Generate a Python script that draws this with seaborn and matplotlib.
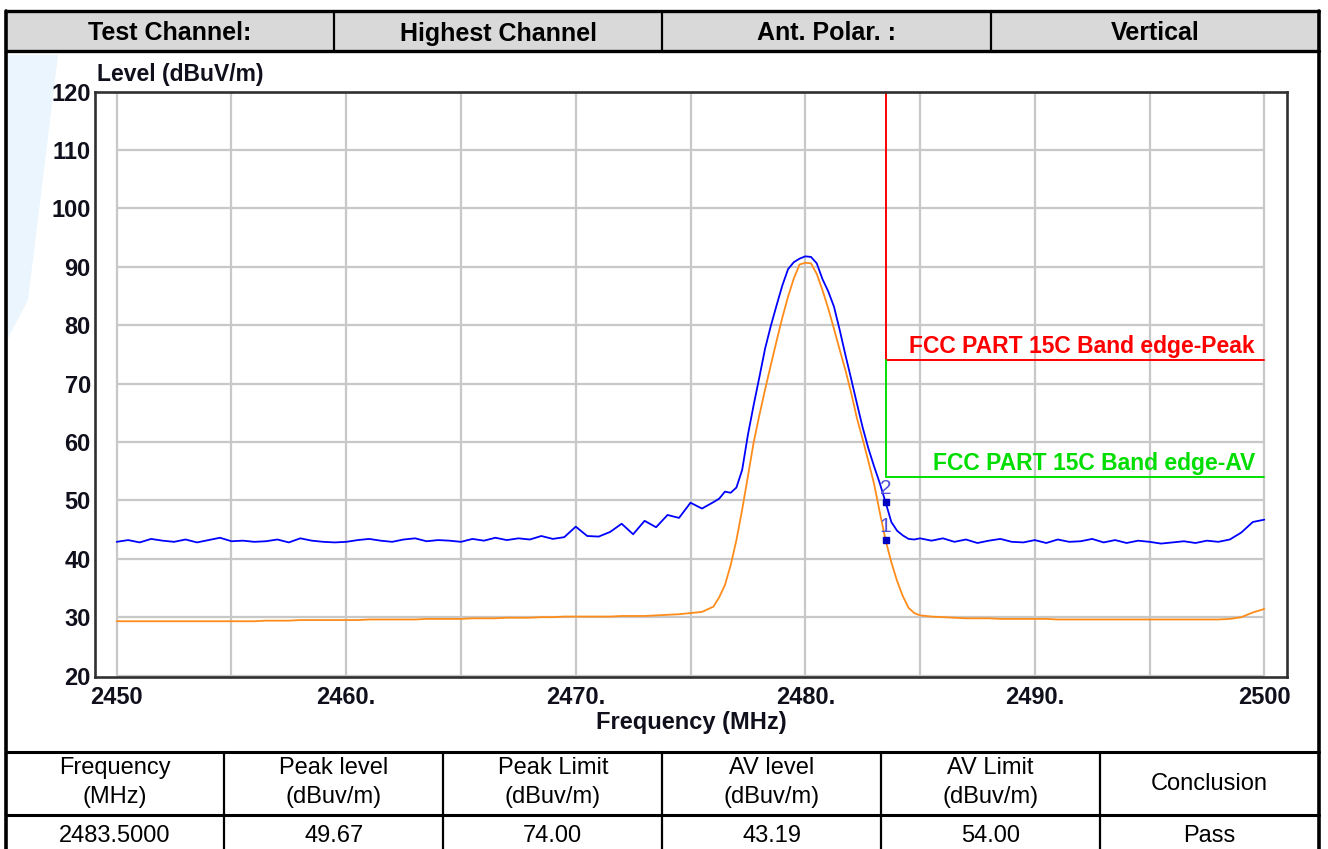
import numpy as np
import pandas as pd
import matplotlib
matplotlib.use('Agg')
import matplotlib.pyplot as plt
from matplotlib.lines import Line2D
from matplotlib.patches import Rectangle, Polygon
import seaborn as sns

W, H = 1328, 849

# sweep grid (MHz): coarse outside the carrier, finer across it
freq = np.concatenate([np.arange(2450, 2476, 0.5),
                       np.arange(2476, 2485.01, 0.25),
                       np.arange(2485.5, 2500.01, 0.5)])

# peak detector trace (blue)
peak_level = [
    42.9, 43.2, 42.8, 43.4, 43.1, 42.9, 43.3, 42.8, 43.2, 43.6,
    43.0, 43.1, 42.9, 43.0, 43.3, 42.8, 43.5, 43.1, 42.9, 42.8,
    42.9, 43.2, 43.4, 43.1, 42.9, 43.3, 43.5, 43.0, 43.2, 43.1,
    42.9, 43.4, 43.1, 43.6, 43.2, 43.5, 43.3, 43.9, 43.4, 43.7,
    45.5, 43.9, 43.8, 44.6, 46.0, 44.2, 46.5, 45.4, 47.5, 47.0,
    49.6, 48.6,
    49.7, 50.3, 51.5, 51.3, 52.2, 55.2, 61.2, 66.3, 71.1, 76.0,
    79.9, 83.4, 86.8, 89.6, 90.8, 91.4, 91.8, 91.7, 90.6, 87.9,
    85.8, 83.2, 79.2, 74.9, 70.8, 66.6, 62.5, 58.9, 55.8, 52.9,
    49.67, 46.3, 44.8, 44.0, 43.4, 43.3, 43.5,
    43.1, 43.5, 42.9, 43.3, 42.7, 43.1, 43.4, 42.9, 42.8, 43.2,
    42.7, 43.3, 42.9, 43.0, 43.4, 42.8, 43.2, 42.7, 43.1, 42.9,
    42.6, 42.8, 43.0, 42.7, 43.1, 42.9, 43.3, 44.5, 46.3, 46.7,
]

# average detector trace (orange)
av_level = [
    29.3, 29.3, 29.3, 29.3, 29.3, 29.3, 29.3, 29.3, 29.3, 29.3,
    29.3, 29.3, 29.3, 29.4, 29.4, 29.4, 29.5, 29.5, 29.5, 29.5,
    29.5, 29.5, 29.6, 29.6, 29.6, 29.6, 29.6, 29.7, 29.7, 29.7,
    29.7, 29.8, 29.8, 29.8, 29.9, 29.9, 29.9, 30.0, 30.0, 30.1,
    30.1, 30.1, 30.1, 30.1, 30.2, 30.2, 30.2, 30.3, 30.4, 30.5,
    30.7, 30.9,
    31.8, 33.4, 35.5, 38.9, 43.2, 48.4, 54.1, 59.9, 64.6, 69.0,
    73.2, 77.3, 81.3, 84.9, 88.0, 90.4, 90.7, 90.6, 88.8, 86.0,
    82.9, 79.4, 75.8, 72.3, 68.4, 64.1, 60.5, 56.7, 52.8, 47.9,
    43.19, 39.4, 36.2, 33.6, 31.6, 30.7, 30.3,
    30.1, 30.0, 29.9, 29.8, 29.8, 29.8, 29.7, 29.7, 29.7, 29.7,
    29.7, 29.6, 29.6, 29.6, 29.6, 29.6, 29.6, 29.6, 29.6, 29.6,
    29.6, 29.6, 29.6, 29.6, 29.6, 29.6, 29.7, 30.0, 30.8, 31.4,
]

band_edge = 2483.5
peak_limit = 74.0
av_limit = 54.0
marker_levels = [43.19, 49.67]
marker_names = ['1', '2']

header_cells = ['Test Channel:', 'Highest Channel', 'Ant. Polar. :', 'Vertical']
table_header_top = ['Frequency', 'Peak level', 'Peak Limit', 'AV level', 'AV Limit', '']
table_header_bottom = ['(MHz)', '(dBuv/m)', '(dBuv/m)', '(dBuv/m)', '(dBuv/m)', '']
table_single = ['', '', '', '', '', 'Conclusion']
table_row = ['2483.5000', '49.67', '74.00', '43.19', '54.00', 'Pass']

x_ticks = [2450, 2460, 2470, 2480, 2490, 2500]
x_tick_labels = ['2450', '2460.', '2470.', '2480.', '2490.', '2500']
y_ticks = [20, 30, 40, 50, 60, 70, 80, 90, 100, 110, 120]
x_grid = [2450, 2455, 2460, 2465, 2470, 2475, 2480, 2485, 2490, 2495, 2500]

df = pd.DataFrame({'freq': freq, 'peak': peak_level, 'av': av_level})

sns.set_theme(style='white')
plt.rcParams['font.family'] = ['Liberation Sans', 'DejaVu Sans']

fig = plt.figure(figsize=(W / 100, H / 100), dpi=100)


def fx(px):
    return px / W


def fy(py):
    return 1 - py / H


# faint watermark at the left edge
fig.add_artist(Polygon([(fx(7), fy(55)), (fx(58), fy(55)), (fx(28), fy(300)), (fx(7), fy(340))],
                       closed=True, facecolor='#eaf5fd', edgecolor='none', zorder=0))

# ---- header strip ----
left_px, right_px = 5.5, 1319
fig.add_artist(Rectangle((fx(left_px), fy(51)), fx(right_px) - fx(left_px), fy(11) - fy(51),
                         facecolor='#d9d9d9', edgecolor='none', zorder=1))
for ypx in (11, 51):
    fig.add_artist(Line2D([fx(left_px), fx(right_px)], [fy(ypx)] * 2, color='black', lw=2.4, zorder=3))
hcol = np.linspace(left_px, right_px, len(header_cells) + 1)
for xpx in hcol[1:-1]:
    fig.add_artist(Line2D([fx(xpx)] * 2, [fy(11), fy(51)], color='black', lw=1.6, zorder=3))
for i, txt in enumerate(header_cells):
    fig.text(fx((hcol[i] + hcol[i + 1]) / 2), fy(40.5), txt, ha='center', va='baseline',
             fontsize=18, fontweight='bold', color='black')

# outer border
for xpx in (left_px, right_px):
    fig.add_artist(Line2D([fx(xpx)] * 2, [fy(11), 0], color='black', lw=2.6, zorder=3))

# ---- bottom table ----
for ypx in (751.7, 815):
    fig.add_artist(Line2D([fx(left_px), fx(right_px)], [fy(ypx)] * 2, color='black', lw=2.2, zorder=3))
tcol = np.linspace(left_px, right_px, len(table_row) + 1)
for xpx in tcol[1:-1]:
    fig.add_artist(Line2D([fx(xpx)] * 2, [fy(751.7), 0], color='black', lw=1.6, zorder=3))
for i in range(len(table_row)):
    cx = fx((tcol[i] + tcol[i + 1]) / 2)
    fig.text(cx, fy(774), table_header_top[i], ha='center', va='baseline', fontsize=17, color='black')
    fig.text(cx, fy(803), table_header_bottom[i], ha='center', va='baseline', fontsize=17, color='black')
    fig.text(cx, fy(790), table_single[i], ha='center', va='baseline', fontsize=17, color='black')
    fig.text(cx, fy(842), table_row[i], ha='center', va='baseline', fontsize=17, color='black')

# ---- plot area ----
ax = fig.add_axes([fx(95), fy(676.7), fx(1287) - fx(95), fy(91.7) - fy(676.7)])
ax.set_facecolor('white')
ax.set_xlim(2449.054, 2500.989)
ax.set_ylim(19.8, 120)

ax.hlines(y_ticks, 2450, 2500, color='#c8c8c8', lw=1.6, zorder=1)
ax.vlines(x_grid, 20, 120, color='#c8c8c8', lw=1.6, zorder=1)

sns.lineplot(data=df, x='freq', y='av', color='#ff8c1a', lw=1.3, estimator=None,
             sort=False, ax=ax, zorder=3)
sns.lineplot(data=df, x='freq', y='peak', color='#0000ff', lw=1.3, estimator=None,
             sort=False, ax=ax, zorder=4)

# limit lines
ax.plot([band_edge, band_edge], [peak_limit, 120], color='#ff0000', lw=1.4, zorder=2)
ax.plot([band_edge, 2500], [peak_limit, peak_limit], color='#ff0000', lw=1.4, zorder=2)
ax.plot([band_edge, band_edge], [av_limit, peak_limit], color='#00e000', lw=1.4, zorder=2)
ax.plot([band_edge, 2500], [av_limit, av_limit], color='#00e000', lw=1.4, zorder=2)
ax.text(2499.6, peak_limit + 1.2, 'FCC PART 15C Band edge-Peak', color='#ff0000',
        fontsize=16.5, fontweight='bold', ha='right', va='baseline', zorder=5)
ax.text(2499.6, av_limit + 1.2, 'FCC PART 15C Band edge-AV', color='#00dd00',
        fontsize=16.5, fontweight='bold', ha='right', va='baseline', zorder=5)

# markers
for lvl, name in zip(marker_levels, marker_names):
    ax.plot([band_edge], [lvl], marker='s', ms=5, color='#0000c0', zorder=6)
    ax.text(band_edge, lvl + 2.4, name, color='#5050d8', fontsize=15,
            ha='center', va='center', zorder=6)

ax.set_xticks(x_ticks, x_tick_labels)
ax.set_yticks(y_ticks)
ax.tick_params(axis='both', length=0, labelsize=17, labelcolor='#10101c')
ax.tick_params(axis='x', pad=6.5)
ax.tick_params(axis='y', pad=3)
for lab in ax.get_xticklabels() + ax.get_yticklabels():
    lab.set_fontweight('bold')
ax.set_xlabel('')
ax.set_ylabel('')
for s in ax.spines.values():
    s.set_visible(True)
    s.set_color('#303030')
    s.set_linewidth(1.9)

fig.text(fx(97), fy(75), 'Level (dBuV/m)', ha='left', va='center', fontsize=16.5,
         fontweight='bold', color='#10101c')
fig.text(fx(691), fy(723), 'Frequency (MHz)', ha='center', va='center', fontsize=17,
         fontweight='bold', color='#10101c')

fig.savefig('out.png', dpi=100)
